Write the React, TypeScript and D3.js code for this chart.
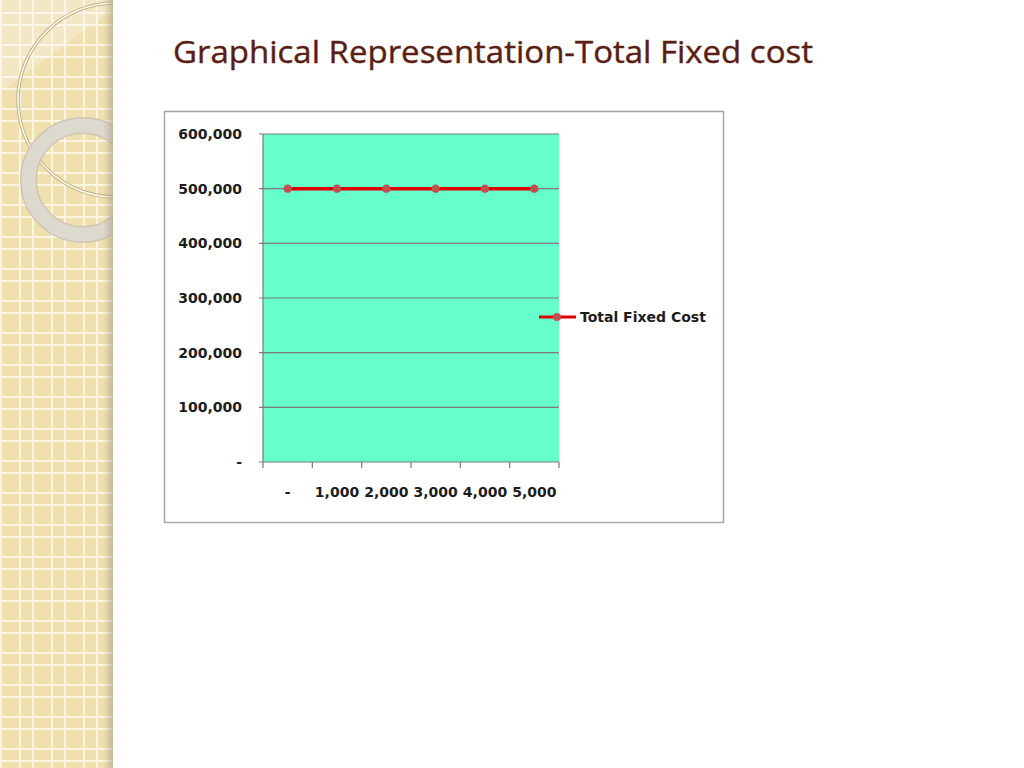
import React from "react";
import * as d3 from "d3";

// chart data
const categories = ["-", "1,000", "2,000", "3,000", "4,000", "5,000"];
const totalFixedCost = [500000, 500000, 500000, 500000, 500000, 500000];
const yTicks = [0, 100000, 200000, 300000, 400000, 500000, 600000];
const seriesName = "Total Fixed Cost";
const title = "Graphical Representation-Total Fixed cost";

const labelFont = "'DejaVu Sans', Verdana, sans-serif";

const App = () => {
  // plot area
  const plot = { left: 263, right: 559, top: 134, bottom: 462 };

  const xScale = d3
    .scaleBand<string>()
    .domain(categories)
    .range([plot.left, plot.right])
    .padding(0);
  const yScale = d3
    .scaleLinear()
    .domain([0, 600000])
    .range([plot.bottom, plot.top]);

  const fmt = d3.format(",");
  const yLabel = (v: number) => (v === 0 ? "-" : fmt(v));

  const line = d3
    .line<number>()
    .x((_, i) => xScale(categories[i])! + xScale.bandwidth() / 2)
    .y((d) => yScale(d));

  // x tick positions at band boundaries
  const xBounds = categories.map((c) => xScale(c)!).concat([plot.right]);

  return (
    <svg
      width={1024}
      height={768}
      style={{ position: "absolute", left: 0, top: 0 }}
    >
      <defs>
        <pattern
          id="grid"
          width={32}
          height={32}
          patternUnits="userSpaceOnUse"
          x={0}
          y={12}
        >
          <rect width={32} height={32} fill="#f0e0b0" />
          <rect x={0} y={0} width={2} height={32} fill="#fbf5e2" />
          <rect x={19} y={0} width={2} height={32} fill="#fbf5e2" />
          <rect x={0} y={0} width={32} height={2} fill="#fbf5e2" />
          <rect x={0} y={12} width={32} height={2} fill="#fbf5e2" />
        </pattern>
        <linearGradient id="edge" x1="0" x2="1" y1="0" y2="0">
          <stop offset="0" stopColor="#b0a488" stopOpacity={0} />
          <stop offset="1" stopColor="#a89c80" stopOpacity={0.6} />
        </linearGradient>
        <clipPath id="strip">
          <rect x={0} y={0} width={113} height={768} />
        </clipPath>
      </defs>

      <rect width={1024} height={768} fill="#ffffff" />

      {/* decorative side strip */}
      <g clipPath="url(#strip)">
        <rect x={0} y={0} width={113} height={768} fill="url(#grid)" />
        <polygon points="0,0 113,0 113,10 0,92" fill="#ffffff" opacity={0.25} />
        <circle cx={115} cy={100} r={97} fill="none" stroke="#c2b083" strokeWidth={3.5} />
        <circle cx={115} cy={100} r={97} fill="none" stroke="#fffdf2" strokeWidth={1.5} />
        <circle cx={83} cy={180} r={54.5} fill="none" stroke="#c9c3b2" strokeWidth={17} opacity={0.9} />
        <circle cx={83} cy={180} r={54.5} fill="none" stroke="#dedad0" strokeWidth={14} opacity={0.95} />
        <rect x={103} y={0} width={10} height={768} fill="url(#edge)" />
      </g>

      {/* title */}
      <text
        x={173}
        y={63}
        fontFamily="'Open Sans', sans-serif"
        fontSize={31}
        fill="#5a1e15"
        stroke="#5a1e15"
        strokeWidth={0.4}
        textLength={640}
        lengthAdjust="spacingAndGlyphs"
      >
        {title}
      </text>

      {/* chart frame */}
      <rect
        x={164.5}
        y={111.5}
        width={559}
        height={411}
        fill="#ffffff"
        stroke="#a6a6a6"
        strokeWidth={1.5}
      />

      {/* plot area */}
      <rect
        x={plot.left}
        y={plot.top}
        width={plot.right - plot.left}
        height={plot.bottom - plot.top}
        fill="#66ffcc"
      />

      {/* gridlines */}
      {yTicks.map((t) => (
        <line
          key={"g" + t}
          x1={plot.left - 4}
          x2={plot.right}
          y1={yScale(t)}
          y2={yScale(t)}
          stroke="#7a7a7a"
          strokeWidth={1.2}
        />
      ))}

      {/* y axis */}
      <line
        x1={plot.left}
        x2={plot.left}
        y1={plot.top}
        y2={plot.bottom}
        stroke="#7a7a7a"
        strokeWidth={1.2}
      />
      {yTicks.map((t) => (
        <text
          key={"y" + t}
          x={242}
          y={yScale(t) + 5}
          textAnchor="end"
          fontFamily={labelFont}
          fontWeight="bold"
          fontSize={14}
          fill="#1c1c1c"
        >
          {yLabel(t)}
        </text>
      ))}

      {/* x axis */}
      {xBounds.map((x, i) => (
        <line
          key={"xt" + i}
          x1={x}
          x2={x}
          y1={plot.bottom}
          y2={plot.bottom + 6}
          stroke="#7a7a7a"
          strokeWidth={1.2}
        />
      ))}
      {categories.map((c) => (
        <text
          key={"x" + c}
          x={xScale(c)! + xScale.bandwidth() / 2}
          y={497}
          textAnchor="middle"
          fontFamily={labelFont}
          fontWeight="bold"
          fontSize={14}
          fill="#1c1c1c"
        >
          {c}
        </text>
      ))}

      {/* series */}
      <path
        d={line(totalFixedCost) ?? ""}
        fill="none"
        stroke="#e00000"
        strokeWidth={3.5}
      />
      {totalFixedCost.map((v, i) => (
        <circle
          key={"p" + i}
          cx={xScale(categories[i])! + xScale.bandwidth() / 2}
          cy={yScale(v)}
          r={4.2}
          fill="#c0504d"
        />
      ))}

      {/* legend */}
      <line x1={539} x2={576} y1={317} y2={317} stroke="#e00000" strokeWidth={3} />
      <circle cx={557} cy={317} r={4} fill="#c0504d" />
      <text
        x={580}
        y={322}
        fontFamily={labelFont}
        fontWeight="bold"
        fontSize={14}
        fill="#1c1c1c"
      >
        {seriesName}
      </text>
    </svg>
  );
};

export default App;
